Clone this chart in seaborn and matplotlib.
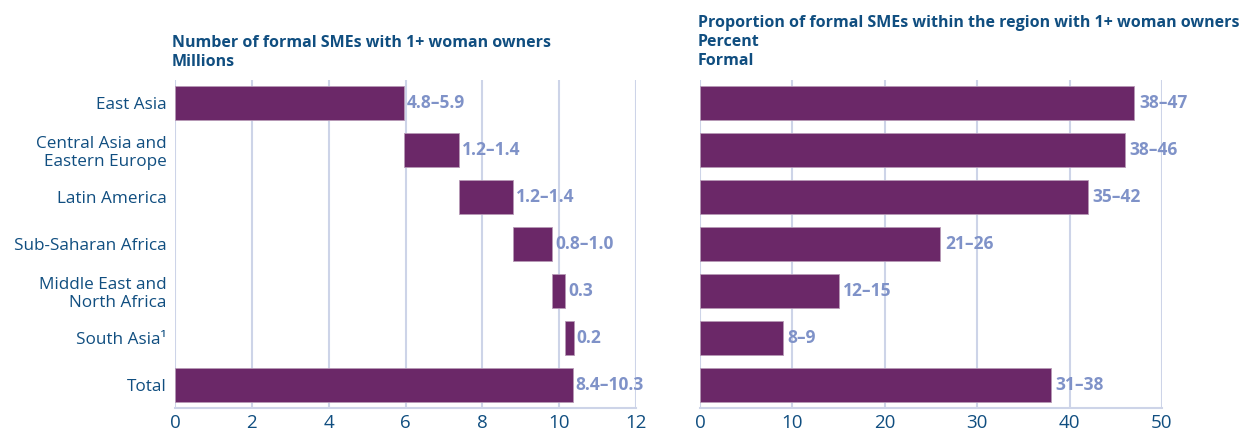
import numpy as np
import pandas as pd
import matplotlib
matplotlib.use("Agg")
import matplotlib.pyplot as plt
import seaborn as sns

# data
regions = ["East Asia", "Central Asia and\nEastern Europe", "Latin America",
           "Sub-Saharan Africa", "Middle East and\nNorth Africa", "South Asia\u00b9", "Total"]
# millions, waterfall steps (last one is the total)
count_values = [5.95, 1.43, 1.42, 1.02, 0.34, 0.22, 10.35]
count_labels = ["4.8\u20135.9", "1.2\u20131.4", "1.2\u20131.4", "0.8\u20131.0", "0.3", "0.2", "8.4\u201310.3"]
# percent
share_values = [47, 46, 42, 26, 15, 9, 38]
share_labels = ["38\u201347", "38\u201346", "35\u201342", "21\u201326", "12\u201315", "8\u20139", "31\u201338"]

count_ticks = [0, 2, 4, 6, 8, 10, 12]
share_ticks = [0, 10, 20, 30, 40, 50]

BAR = "#6b2868"
LABEL = "#7f92c8"
GRID = "#cdd4e8"
TEXT = "#104e80"

sns.set_theme(style="white")
plt.rcParams["font.family"] = ["Open Sans", "DejaVu Sans"]

# waterfall starts: cumulative sum of the previous steps, total starts at zero
steps = np.array(count_values[:-1])
starts = list(np.concatenate([[0], np.cumsum(steps)[:-1]])) + [0]

df_count = pd.DataFrame({"region": regions, "value": count_values, "start": starts})
df_share = pd.DataFrame({"region": regions, "value": share_values})

fig = plt.figure(figsize=(12.45, 4.32), dpi=100)
ax1 = fig.add_axes([175 / 1245, 1 - 408 / 432, (636 - 175) / 1245, (408 - 80) / 432])
ax2 = fig.add_axes([700 / 1245, 1 - 408 / 432, (1162 - 700) / 1245, (408 - 80) / 432])

sns.barplot(data=df_count, x="value", y="region", orient="h", ax=ax1,
            color=BAR, saturation=1, width=0.74, left=df_count["start"],
            edgecolor="#b79ab6", linewidth=0.6, zorder=3)
sns.barplot(data=df_share, x="value", y="region", orient="h", ax=ax2,
            color=BAR, saturation=1, width=0.74,
            edgecolor="#b79ab6", linewidth=0.6, zorder=3)


def style_axis(ax, ticks, labels, ends, offset):
    ax.set_xlim(ticks[0], ticks[-1])
    ax.set_ylim(6.49, -0.49)
    ax.set_xticks(ticks)
    ax.set_xlabel("")
    ax.set_ylabel("")
    for s in ["top", "right", "left"]:
        ax.spines[s].set_visible(False)
    ax.spines["bottom"].set_color(GRID)
    ax.spines["bottom"].set_linewidth(1.5)
    ax.grid(axis="x", color=GRID, linewidth=1.5, zorder=0)
    ax.set_axisbelow(True)
    ax.tick_params(axis="x", length=0, labelsize=13.5, labelcolor=TEXT, pad=4)
    ax.tick_params(axis="y", length=0)
    for i, (end, lab) in enumerate(zip(ends, labels)):
        ax.text(end + offset, i, lab, va="center", ha="left", fontsize=12.5,
                fontweight="bold", color=LABEL, zorder=4)


count_ends = [s + v for s, v in zip(starts, count_values)]
style_axis(ax1, count_ticks, count_labels, count_ends, 0.08)
style_axis(ax2, share_ticks, share_labels, share_values, 0.5)

ax1.tick_params(axis="y", labelsize=12.3, labelcolor=TEXT, pad=6)
for t in ax1.get_yticklabels():
    t.set_fontweight("medium")
ax2.set_yticklabels([])

fig.text(172 / 1245, 1 - 35 / 432, "Number of formal SMEs with 1+ woman owners\nMillions",
         ha="left", va="top", fontsize=11.5, fontweight="bold", color=TEXT, linespacing=1.25)
fig.text(698 / 1245, 1 - 15 / 432, "Proportion of formal SMEs within the region with 1+ woman owners\nPercent\nFormal",
         ha="left", va="top", fontsize=11.5, fontweight="bold", color=TEXT, linespacing=1.25)

fig.savefig("out.png", dpi=100, facecolor="white")
